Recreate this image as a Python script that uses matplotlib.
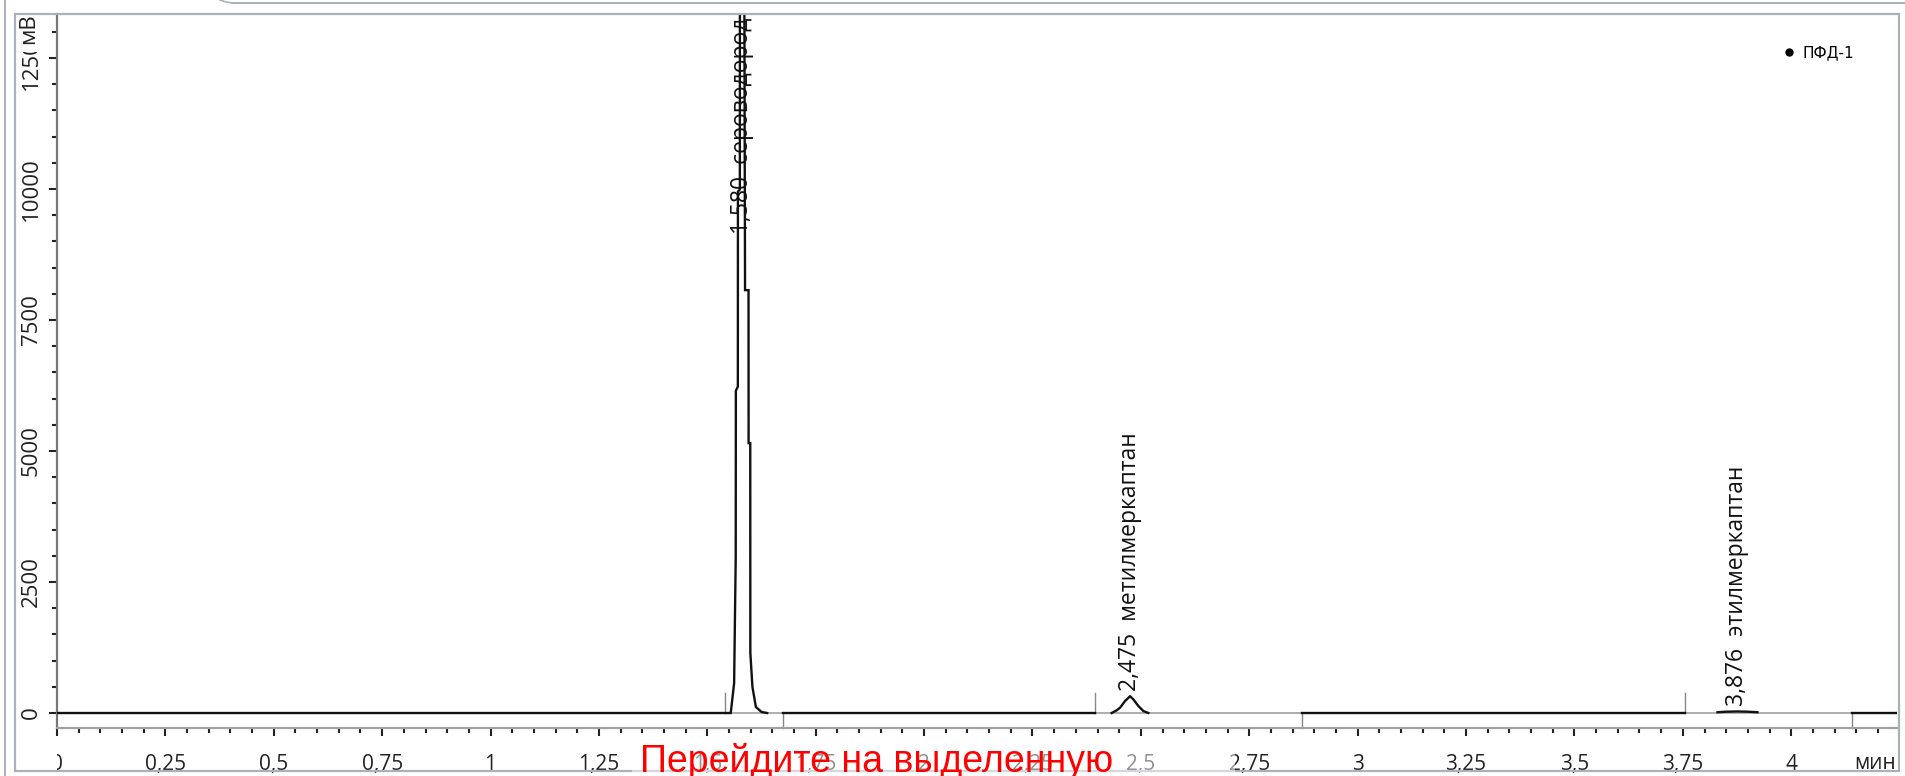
import numpy as np
import matplotlib.pyplot as plt
from matplotlib.ticker import MultipleLocator, FuncFormatter
from matplotlib.lines import Line2D
from matplotlib.patches import Rectangle
from matplotlib.transforms import Bbox, TransformedBbox

# chromatogram trace (time in min, signal in mV)
seg1_t = [0.0, 1.554, 1.5618, 1.5655, 1.5658, 1.5704, 1.5706, 1.5750, 1.5752,
          1.5850, 1.5870, 1.5950, 1.5952, 1.5990, 1.5992, 1.6040, 1.6120, 1.6250, 1.638]
seg1_v = [0, 0, 570, 2980, 6150, 6230, 9950, 9990, 15000,
          15000, 8070, 8070, 5150, 5150, 1150, 500, 115, 20, 0]
seg2_t = [1.675, 2.395]
seg2_v = [0, 0]
seg3_t = [2.4326, 2.4441, 2.4520, 2.4635, 2.475, 2.4826, 2.4941, 2.5057, 2.5172]
seg3_v = [0, 51, 101, 229, 320, 261, 134, 38, 0]
seg4_t = [2.872, 3.755]
seg4_v = [0, 0]
seg5_t = [3.830, 3.850, 3.876, 3.900, 3.922]
seg5_v = [15, 25, 30, 25, 15]
seg6_t = [4.141, 4.30]
seg6_v = [0, 0]

# integration marks
start_marks = [1.5415, 2.395, 3.755]
end_marks = [1.675, 2.872, 4.141]

# peaks
peak_rt = [1.580, 2.475, 3.876]
peak_top = [15000, 320, 30]
peak_names = ['сероводород', 'метилмеркаптан', 'этилмеркаптан']

W, H = 1905, 776
fig = plt.figure(figsize=(W / 100, H / 100), dpi=100)
fig.patch.set_facecolor('white')

ax_l, ax_r, ax_t, ax_b = 57, 1897, 14, 728
ax = fig.add_axes([ax_l / W, 1 - ax_b / H, (ax_r - ax_l) / W, (ax_b - ax_t) / H])

xmax = 4.244
ymin, ymax = -286, 13340
ax.set_xlim(0, xmax)
ax.set_ylim(ymin, ymax)

# window frame around the plot
frame_col = '#a9b1b9'
fig.patches.append(Rectangle((15 / W, 1 - 771 / H), (1899 - 15) / W, (771 - 14) / H,
                             transform=fig.transFigure, fill=False,
                             edgecolor=frame_col, lw=1.6))
fig.lines.append(Line2D([5 / W, 5 / W], [0, 1], transform=fig.transFigure,
                        color=frame_col, lw=1.4))
fig.lines.append(Line2D([232 / W, 1], [1 - 3 / H, 1 - 3 / H], transform=fig.transFigure,
                        color=frame_col, lw=1.4))
fig.lines.append(Line2D([220 / W, 226 / W, 232 / W], [1, 1 - 2 / H, 1 - 3 / H],
                        transform=fig.transFigure, color=frame_col, lw=1.2))

ax.axhline(0, color='#a0a0a0', lw=1.2, zorder=1)

for t, v in [(seg1_t, seg1_v), (seg2_t, seg2_v), (seg3_t, seg3_v),
             (seg4_t, seg4_v), (seg5_t, seg5_v), (seg6_t, seg6_v)]:
    ax.plot(t, v, color='#111111', lw=1.7, zorder=3, solid_joinstyle='miter')

for m in start_marks:
    ax.plot([m, m], [0, 390], color='#888888', lw=1.0, zorder=2)
for m in end_marks:
    ax.plot([m, m], [0, ymin], color='#888888', lw=1.0, zorder=2, clip_on=False)

for rt, top, name in zip(peak_rt, peak_top, peak_names):
    txt = ('%.3f' % rt).replace('.', ',') + '  ' + name
    if top + 100 > ymax:
        ax.text(rt, ymax - 60, txt, rotation=90, ha='center', va='top',
                fontsize=16.5, family='Open Sans', color='#111111', zorder=4)
    else:
        ax.text(rt, top + 100, txt, rotation=90, ha='center', va='bottom',
                fontsize=16.5, family='Open Sans', color='#111111', zorder=4)

for s in ['top', 'right']:
    ax.spines[s].set_visible(False)
ax.spines['left'].set_color('#777777')
ax.spines['left'].set_linewidth(1.6)
ax.spines['bottom'].set_color('#a0a0a0')
ax.spines['bottom'].set_linewidth(1.6)

comma = FuncFormatter(lambda v, p: ('%g' % v).replace('.', ','))
ax.xaxis.set_major_locator(MultipleLocator(0.25))
ax.xaxis.set_minor_locator(MultipleLocator(0.05))
ax.yaxis.set_major_locator(MultipleLocator(2500))
ax.yaxis.set_minor_locator(MultipleLocator(500))
ax.xaxis.set_major_formatter(comma)
ax.yaxis.set_major_formatter(comma)
ax.tick_params(axis='both', which='major', length=6, width=1.5, color='#222222',
               labelcolor='#222222')
ax.tick_params(axis='both', which='minor', length=3.5, width=1.5, color='#222222')
ax.tick_params(axis='x', which='major', labelsize=15, pad=13)
ax.tick_params(axis='y', which='major', labelsize=16, pad=5)
for lab in ax.get_yticklabels():
    lab.set_rotation(90)
    lab.set_va('center')
for lab in ax.get_xticklabels() + ax.get_yticklabels():
    lab.set_family('Open Sans')

ax.annotate('мин', xy=(1, 0), xycoords='axes fraction', xytext=(-1, -18),
            textcoords='offset points', ha='right', va='top',
            fontsize=15, family='Open Sans', color='#222222')
fig.text(29 / W, 1 - 29 / H, 'мВ', rotation=90, ha='center', va='center',
         fontsize=16, family='Open Sans', color='#222222')

ax.legend(handles=[Line2D([], [], marker='o', ls='none', color='black', ms=5)],
          labels=['ПФД-1'], loc='upper right', frameon=False,
          bbox_to_anchor=((1854 - ax_l) / (ax_r - ax_l), 1 - (45 - ax_t) / (ax_b - ax_t)),
          borderpad=0, borderaxespad=0, handletextpad=0.4, handlelength=1.0,
          prop={'family': 'DejaVu Sans', 'size': 11})

# faded strip behind the red hint text
fig.patches.append(Rectangle((632 / W, 0), (1235 - 632) / W, (776 - 742) / H,
                             transform=fig.transFigure, facecolor='white',
                             edgecolor='none', alpha=0.5, zorder=5))
fig.text(640 / W, 1 - 772 / H, 'Перейдите на выделенную', color='red',
         fontsize=27, family='Liberation Sans', ha='left', va='baseline', zorder=6)

# clip tick labels like the software does
fig.canvas.draw()
xclip = TransformedBbox(Bbox([[ax_l / W, 0], [1, 1]]), fig.transFigure)
yclip = TransformedBbox(Bbox([[0, 0], [1, 1 - 52 / H]]), fig.transFigure)
for lab in ax.get_xticklabels():
    lab.set_clip_box(xclip)
    lab.set_clip_on(True)
for lab in ax.get_yticklabels():
    lab.set_clip_box(yclip)
    lab.set_clip_on(True)

fig.savefig('out.png', dpi=100)
